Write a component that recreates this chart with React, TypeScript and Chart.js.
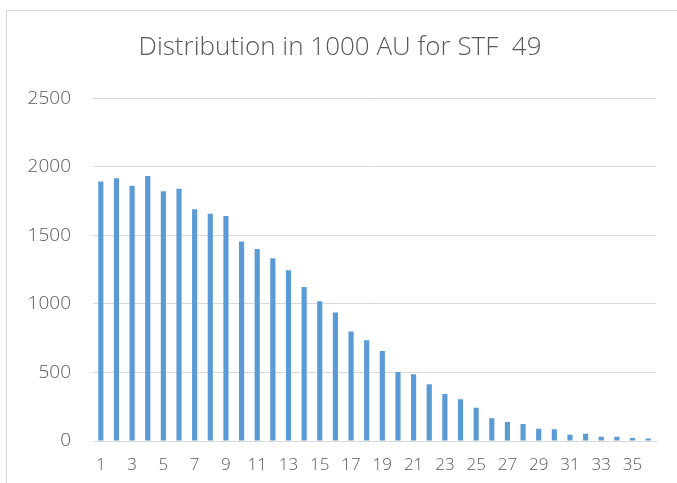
import React, { useEffect, useRef } from "react";
import { Chart, registerables } from "chart.js";

Chart.register(...registerables);

const categories: string[] = Array.from({ length: 36 }, (_, i) => String(i + 1));
const counts: number[] = [
  1893, 1917, 1861, 1932, 1822, 1839, 1691, 1657, 1640, 1455, 1401, 1333,
  1246, 1124, 1020, 937, 798, 735, 657, 504, 487, 414, 343, 305,
  243, 166, 139, 124, 90, 85, 46, 53, 31, 31, 22, 19,
];
const yTicks: number[] = [0, 500, 1000, 1500, 2000, 2500];
const titleText = "Distribution in 1000 AU for STF  49";

export default function App() {
  const ref = useRef<HTMLCanvasElement | null>(null);
  useEffect(() => {
    if (!ref.current) return;
    const xFont = { family: "'Open Sans', sans-serif", size: 17, weight: "300" as any };
    const yFont = { family: "'Open Sans', sans-serif", size: 19, weight: "300" as any };
    const chart = new Chart(ref.current, {
      type: "bar",
      data: {
        labels: categories,
        datasets: [
          {
            data: counts,
            backgroundColor: "#5b9bd5",
            borderWidth: 0,
            barPercentage: 0.33,
            categoryPercentage: 1,
          },
        ],
      },
      options: {
        responsive: false,
        animation: false,
        layout: { padding: { left: 24, right: 21, top: 0, bottom: 0 } },
        plugins: {
          legend: { display: false },
          tooltip: { enabled: false },
          title: {
            display: true,
            text: titleText,
            color: "#595959",
            font: { family: "'Open Sans', sans-serif", size: 26, weight: "300" as any },
            padding: { top: 32, bottom: 35 },
          },
        },
        scales: {
          x: {
            offset: true,
            grid: { display: false, drawTicks: false },
            border: { display: true, color: "#d9d9d9", width: 1 },
            ticks: {
              autoSkip: false,
              maxRotation: 0,
              minRotation: 0,
              color: "#595959",
              font: xFont,
              padding: 14,
              callback: (_v: any, i: number) => (i % 2 === 0 ? categories[i] : ""),
            },
            afterFit: (s: any) => {
              s.height = 42;
            },
          },
          y: {
            min: 0,
            max: 2500,
            afterBuildTicks: (s: any) => {
              s.ticks = yTicks.map((v) => ({ value: v }));
            },
            grid: { color: "#d9d9d9", lineWidth: 1, drawTicks: false },
            border: { display: false },
            ticks: {
              color: "#595959",
              font: yFont,
              padding: 22,
              callback: (v: any) => String(v),
            },
            afterFit: (s: any) => {
              s.width = 69;
            },
          },
        },
      },
    });
    return () => chart.destroy();
  }, []);
  return (
    <div style={{ position: "fixed", left: 0, top: 0, width: 677, height: 483, background: "#fff", overflow: "hidden" }}>
      <div
        style={{
          position: "absolute",
          left: 6,
          top: 10,
          width: 700,
          height: 500,
          borderLeft: "1px solid #d9d9d9",
          borderTop: "1px solid #d9d9d9",
        }}
      />
      <canvas ref={ref} width={677} height={483} style={{ position: "absolute", left: 0, top: 0 }} />
    </div>
  );
}
